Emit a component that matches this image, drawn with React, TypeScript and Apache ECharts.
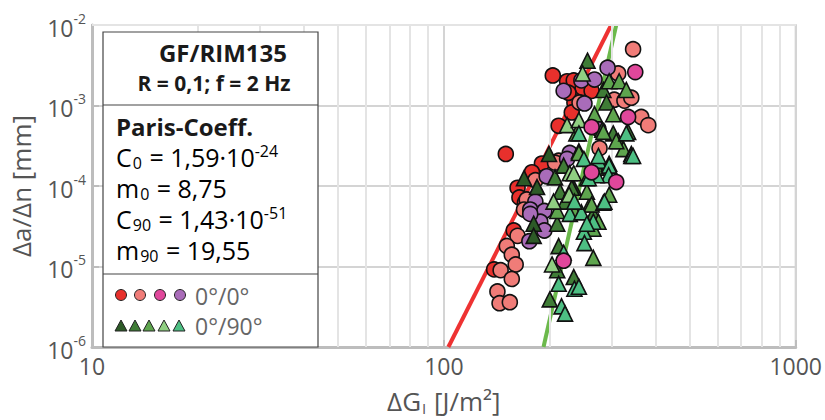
import React, { useEffect, useRef } from "react";
import * as echarts from "echarts";

// ---- data (ΔG_I in J/m², da/dN in mm) ----
const redPts = [[204,2.36e-3],[224,2.0e-3],[235,1.09e-3],[231,8.2e-4],[212,5.6e-4],[234,2.05e-3],[248,1.65e-3],[263,1.52e-3],[226,1.44e-3],[150,2.5e-4],[190,1.9e-4],[178,1.48e-4],[162,9.5e-5],[164,7.2e-5],[170,6.2e-5],[158,2.8e-5],[139,9.2e-6]];
const salmonPts = [[345,5.0e-3],[313,2.5e-3],[305,1.18e-3],[326,1.15e-3],[341,1.25e-3],[364,7.2e-4],[381,5.7e-4],[243,1.09e-3],[277,2.95e-4],[212,2.06e-4],[207,1.95e-4],[182,1.18e-4],[172,6.8e-5],[169,5.1e-5],[162,2.4e-5],[151,1.8e-5],[156,1.4e-5],[160,1.06e-5],[145,9.0e-6],[156,7.0e-6],[142,4.9e-6],[144,3.5e-6],[154,3.6e-6]];
const pinkPts = [[350,2.6e-3],[334,7.2e-4],[263,5.4e-4],[309,1.12e-4],[263,1.48e-4],[219,1.18e-5]];
const purplePts = [[292,2.95e-3],[219,1.52e-3],[246,2.05e-3],[268,2.1e-3],[251,1.06e-3],[275,5.1e-4],[228,2.57e-4],[196,1.32e-4],[224,2.17e-4],[182,6.4e-5],[176,5.1e-5],[193,4.9e-5],[188,3.6e-5],[176,4.5e-5],[175,2.06e-5],[193,2.8e-5]];

const tri1Pts = [[199,2.5e-4],[242,2.7e-4],[169,1.25e-4],[184,9.7e-5],[234,9.5e-5],[180,3.4e-5],[180,2.4e-5]];
const tri2Pts = [[256,3.6e-3],[284,1.56e-3],[290,1.09e-3],[282,5.0e-4],[303,4.5e-4],[207,1.28e-4],[219,1.79e-4],[210,3.4e-5],[266,4.5e-5],[212,1.79e-5],[210,9.0e-6],[234,7.4e-6],[200,3.9e-6],[214,8.5e-5],[221,6.4e-5],[334,4.7e-4],[272,1.69e-4],[231,9.5e-5]];
const tri3Pts = [[295,2.0e-3],[315,2.0e-3],[330,1.56e-3],[268,7.8e-4],[303,7.8e-4],[238,4.5e-4],[313,3.6e-4],[324,2.87e-4],[255,1.25e-4],[210,4.9e-5],[295,7.8e-5],[260,5.9e-5],[266,2.95e-5],[266,1.28e-5],[234,5.1e-5],[284,4.7e-4],[309,3.6e-4],[242,2.57e-4],[295,1.89e-4],[255,8.5e-5],[263,5.9e-5],[275,3.6e-5]];
const tri4Pts = [[248,2.5e-3],[224,5.7e-4],[242,6.6e-4],[228,1.44e-4],[205,6.4e-5],[227,7.8e-5],[203,1.06e-5],[234,1.44e-4]];
const tri5Pts = [[341,2.5e-4],[330,4.5e-4],[250,2.17e-4],[275,2.06e-4],[295,1.79e-4],[341,2.36e-4],[294,1.36e-4],[272,1.36e-4],[228,4.5e-5],[246,4.7e-5],[284,6.2e-5],[266,3.6e-5],[250,2.7e-5],[251,1.95e-5],[219,1.48e-5],[235,5.3e-6],[212,6.1e-6],[216,3.2e-6],[221,2.6e-6],[242,5.6e-6],[242,4.5e-4],[345,2.36e-4],[275,2.36e-4],[258,1.25e-4],[235,6.4e-5],[286,6.4e-5],[255,3.4e-5]];

// Paris fit lines (endpoints)
const fit0 = [[103,1e-6],[299,1e-2]];
const fit90 = [[192,1e-6],[309,1e-2]];

// minor grid positions
const xMinor = [20,30,40,50,60,70,80,90,200,300,400,500,600,700,800,900];
const yMinor = [2e-6,3e-6,4e-6,5e-6,6e-6,7e-6,8e-6,9e-6,2e-5,3e-5,4e-5,5e-5,6e-5,7e-5,8e-5,9e-5,2e-4,3e-4,4e-4,5e-4,6e-4,7e-4,8e-4,9e-4,2e-3,3e-3,4e-3,5e-3,6e-3,7e-3,8e-3,9e-3];

const circleColors = ["#e8302c", "#f07c78", "#e0479b", "#a96cb9"];
const triColors = ["#2d5a27", "#3f7c36", "#5ea54e", "#90cf82", "#4dbf83"];

const FONT = "Open Sans";

export default function App() {
  const ref = useRef<HTMLDivElement>(null);
  useEffect(() => {
    if (!ref.current) return;
    const chart = echarts.init(ref.current, undefined, { renderer: "svg" });

    const circ = (data: number[][], color: string) => ({
      type: "scatter",
      data,
      symbol: "circle",
      symbolSize: 15,
      z: 5,
      itemStyle: { color, borderColor: "#111", borderWidth: 1.6, opacity: 1 },
      silent: true,
    });
    const tri = (data: number[][], color: string) => ({
      type: "scatter",
      data,
      symbol: "triangle",
      symbolSize: 15,
      z: 6,
      itemStyle: { color, borderColor: "#111", borderWidth: 1.6, opacity: 1 },
      silent: true,
    });

    const gridSeries = {
      type: "scatter",
      data: [],
      z: 1,
      silent: true,
      markLine: {
        silent: true,
        symbol: "none",
        label: { show: false },
        animation: false,
        lineStyle: { color: "#e4e4e4", width: 2, type: "solid" },
        data: [
          ...xMinor.map((v) => ({ xAxis: v })),
          ...yMinor.map((v) => ({ yAxis: v })),
        ],
      },
    };

    const richMain = {
      m: { fontFamily: FONT, fontSize: 25, color: "#1a1a1a", lineHeight: 28, verticalAlign: "middle" },
      sub: { fontFamily: FONT, fontSize: 16, color: "#1a1a1a", lineHeight: 16, verticalAlign: "bottom", padding: [0, 1, 0, 1] },
      sup: { fontFamily: FONT, fontSize: 16, color: "#1a1a1a", lineHeight: 16, verticalAlign: "top", padding: [0, 0, 0, 0] },
    };

    const legendCircleX = [121, 140, 160, 180];
    const legendTriX = [121, 135, 149, 164, 179];

    const graphic: any[] = [
      {
        type: "rect",
        z: 100,
        shape: { x: 103, y: 32, width: 215, height: 315 },
        style: { fill: "#fff", stroke: "#444", lineWidth: 1.2 },
      },
      { type: "line", z: 101, shape: { x1: 103, y1: 105, x2: 318, y2: 105 }, style: { stroke: "#444", lineWidth: 1.2 } },
      { type: "line", z: 101, shape: { x1: 103, y1: 274, x2: 318, y2: 274 }, style: { stroke: "#444", lineWidth: 1.2 } },
      {
        type: "text", z: 102, x: 223, y: 52,
        style: { text: "GF/RIM135", fontFamily: FONT, fontSize: 24, fontWeight: "bold", fill: "#1a1a1a", textAlign: "center", textVerticalAlign: "middle" },
      },
      {
        type: "text", z: 102, x: 214, y: 83,
        style: { text: "R = 0,1; f = 2 Hz", fontFamily: FONT, fontSize: 21, fontWeight: "bold", fill: "#1a1a1a", textAlign: "center", textVerticalAlign: "middle" },
      },
      {
        type: "text", z: 102, x: 116, y: 126,
        style: { text: "Paris-Coeff.", fontFamily: FONT, fontSize: 24, fontWeight: "bold", fill: "#1a1a1a", textAlign: "left", textVerticalAlign: "middle" },
      },
      {
        type: "text", z: 102, x: 116, y: 157,
        style: { text: "{m|C}{sub|0}{m| = 1,59·10}{sup|-24}", rich: richMain, textAlign: "left", textVerticalAlign: "middle" },
      },
      {
        type: "text", z: 102, x: 116, y: 188,
        style: { text: "{m|m}{sub|0}{m| = 8,75}", rich: richMain, textAlign: "left", textVerticalAlign: "middle" },
      },
      {
        type: "text", z: 102, x: 116, y: 219,
        style: { text: "{m|C}{sub|90}{m| = 1,43·10}{sup|-51}", rich: richMain, textAlign: "left", textVerticalAlign: "middle" },
      },
      {
        type: "text", z: 102, x: 116, y: 250,
        style: { text: "{m|m}{sub|90}{m| = 19,55}", rich: richMain, textAlign: "left", textVerticalAlign: "middle" },
      },
      ...legendCircleX.map((cx, i) => ({
        type: "circle", z: 102,
        shape: { cx, cy: 295, r: 5.5 },
        style: { fill: circleColors[i], stroke: "#222", lineWidth: 1 },
      })),
      ...legendTriX.map((cx, i) => ({
        type: "polygon", z: 102,
        shape: { points: [[cx, 320], [cx - 6, 331], [cx + 6, 331]] },
        style: { fill: triColors[i], stroke: "#222", lineWidth: 1 },
      })),
      {
        type: "text", z: 102, x: 195, y: 296,
        style: { text: "0°/0°", fontFamily: FONT, fontSize: 23, fill: "#666", textAlign: "left", textVerticalAlign: "middle" },
      },
      {
        type: "text", z: 102, x: 195, y: 326,
        style: { text: "0°/90°", fontFamily: FONT, fontSize: 23, fill: "#666", textAlign: "left", textVerticalAlign: "middle" },
      },
    ];

    chart.setOption({
      animation: false,
      backgroundColor: "#fff",
      grid: { left: 91, right: 24, top: 25, bottom: 63, show: true, borderColor: "#cfcfcf", borderWidth: 2 },
      xAxis: {
        type: "log",
        logBase: 10,
        min: 10,
        max: 1000,
        name: "ΔG{sub|I} [J/m²]",
        nameLocation: "middle",
        nameGap: 40,
        nameTextStyle: {
          fontFamily: FONT, fontSize: 26, color: "#555", lineHeight: 28,
          rich: { sub: { fontFamily: FONT, fontSize: 15, color: "#555", lineHeight: 15, verticalAlign: "bottom", padding: [0, 1, 0, 1] } },
        },
        axisLine: { show: true, lineStyle: { color: "#bdbdbd", width: 3 } },
        axisTick: { show: true, inside: true, length: 7, lineStyle: { color: "#bdbdbd", width: 2 } },
        splitLine: { show: true, lineStyle: { color: "#d4d4d4", width: 2 } },
        axisLabel: { fontFamily: FONT, fontSize: 23, lineHeight: 22, color: "#555", margin: 8, formatter: (v: number) => String(Math.round(v)) },
      },
      yAxis: {
        type: "log",
        logBase: 10,
        min: 1e-6,
        max: 1e-2,
        name: "Δa/Δn [mm]",
        nameLocation: "middle",
        nameGap: 58,
        nameTextStyle: { fontFamily: FONT, fontSize: 26, color: "#555" },
        axisLine: { show: true, lineStyle: { color: "#bdbdbd", width: 3 } },
        axisTick: { show: true, inside: true, length: 7, lineStyle: { color: "#bdbdbd", width: 2 } },
        splitLine: { show: true, lineStyle: { color: "#d4d4d4", width: 2 } },
        axisLabel: {
          margin: 6,
          formatter: (v: number) => `{b|10}{s|${Math.round(Math.log10(v))}}`,
          rich: {
            b: { fontFamily: FONT, fontSize: 23, color: "#555", verticalAlign: "bottom", lineHeight: 28 },
            s: { fontFamily: FONT, fontSize: 14, color: "#555", verticalAlign: "top", lineHeight: 28 },
          },
        },
      },
      graphic,
      series: [
        gridSeries,
        {
          type: "line", data: fit0, symbol: "none", z: 3, silent: true,
          lineStyle: { color: "#ee3232", width: 4 },
        },
        {
          type: "line", data: fit90, symbol: "none", z: 3, silent: true,
          lineStyle: { color: "#6cb94c", width: 4 },
        },
        circ(redPts, circleColors[0]),
        circ(salmonPts, circleColors[1]),
        circ(purplePts, circleColors[3]),
        tri(tri1Pts, triColors[0]),
        tri(tri2Pts, triColors[1]),
        tri(tri3Pts, triColors[2]),
        tri(tri4Pts, triColors[3]),
        tri(tri5Pts, triColors[4]),
        { ...circ(pinkPts, circleColors[2]), z: 7 },
      ],
    });
    return () => chart.dispose();
  }, []);
  return <div ref={ref} style={{ width: 825, height: 420, position: "absolute", left: 0, top: 0 }} />;
}
